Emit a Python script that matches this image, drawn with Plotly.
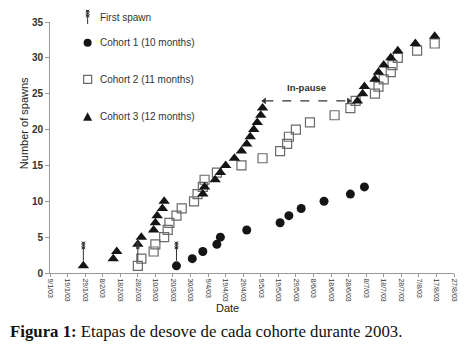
import plotly.graph_objects as go

# ---------------- data ----------------
c1_dates = ["2003-03-22", "2003-03-31", "2003-04-06", "2003-04-14", "2003-04-16", "2003-05-01",
            "2003-05-20", "2003-05-25", "2003-06-01", "2003-06-14", "2003-06-29", "2003-07-07"]
c1_values = [1, 2, 3, 4, 5, 6, 7, 8, 9, 10, 11, 12]

c2_dates = ["2003-02-28", "2003-03-02", "2003-03-09", "2003-03-10", "2003-03-15", "2003-03-17",
            "2003-03-18", "2003-03-22", "2003-03-25", "2003-04-01", "2003-04-03", "2003-04-06",
            "2003-04-07", "2003-04-14", "2003-04-28", "2003-05-10", "2003-05-20", "2003-05-24",
            "2003-05-25", "2003-05-29", "2003-06-06", "2003-06-20", "2003-06-29", "2003-07-02",
            "2003-07-13", "2003-07-15", "2003-07-18", "2003-07-22", "2003-07-23", "2003-07-26",
            "2003-08-06", "2003-08-16"]
c2_values = list(range(1, 33))

c3_dates = ["2003-01-28", "2003-02-14", "2003-02-16", "2003-02-28", "2003-03-02", "2003-03-09",
            "2003-03-10", "2003-03-11", "2003-03-14", "2003-03-15", "2003-04-06", "2003-04-07",
            "2003-04-13", "2003-04-16", "2003-04-19", "2003-04-24", "2003-04-28", "2003-05-01",
            "2003-05-03", "2003-05-05", "2003-05-07", "2003-05-09", "2003-05-10", "2003-07-03",
            "2003-07-06", "2003-07-07", "2003-07-13", "2003-07-15", "2003-07-18", "2003-07-22",
            "2003-07-26", "2003-08-05", "2003-08-16"]
c3_values = list(range(1, 34))

first_spawn_dates = ["2003-01-28", "2003-02-28", "2003-03-22"]
first_spawn_values = [1, 1, 1]

pause_start = "2003-05-11"
pause_end = "2003-06-28"
pause_level = 24

x_range = ["2003-01-09", "2003-08-27"]
y_range = [0, 35]

legend_labels = ["First spawn", "Cohort 1 (10 months)", "Cohort 2 (11 months)", "Cohort 3 (12 months)"]

# ---------------- figure ----------------
OFF = 8                      # page body margin
W, H = 466 - OFF, 344 - OFF
PL, PR, PT, PB = 50, 458, 19, 273   # plot area in window pixels
L, T = PL - OFF, PT - OFF
R = (W + OFF) - PR
B = (H + OFF) - PB
pw, ph = PR - PL, PB - PT

def px(xp):
    return (xp - PL) / pw

def py(yp):
    return (PB - yp) / ph

fig = go.Figure()

fig.add_trace(go.Scatter(x=c1_dates, y=c1_values, mode="markers", name=legend_labels[1],
                         marker=dict(symbol="circle", size=9, color="#151515"), showlegend=False))
fig.add_trace(go.Scatter(x=c2_dates, y=c2_values, mode="markers", name=legend_labels[2],
                         marker=dict(symbol="square-open", size=9, color="#6a6a6a",
                                     line=dict(width=1.2, color="#6a6a6a")), showlegend=False))
fig.add_trace(go.Scatter(x=c3_dates, y=c3_values, mode="markers", name=legend_labels[3],
                         marker=dict(symbol="triangle-up", size=10, color="#151515"), showlegend=False))

# pause arrow (dashed line with heads)
fig.add_trace(go.Scatter(x=[pause_start, pause_end], y=[pause_level, pause_level], mode="lines+markers",
                         line=dict(color="#333", width=1.3, dash="dash"),
                         marker=dict(symbol=["triangle-left", "triangle-right"], size=6, color="#333"),
                         showlegend=False, hoverinfo="skip"))

shapes = []

def feather(xa, ya, xref, yref, y0, y1):
    """vertical line with a stacked squiggle head, pixel-sized relative to anchor"""
    path = f"M0,{y0} L0,{y1}"
    for i in range(3):
        top = y1 - i * 2.6
        path += f" M-1.8,{top} L1.8,{top-2} M1.8,{top} L-1.8,{top-2}"
    return dict(type="path", xref=xref, yref=yref, xsizemode="pixel", ysizemode="pixel",
                xanchor=xa, yanchor=ya, path=path, line=dict(color="#333", width=1))

for d, v in zip(first_spawn_dates, first_spawn_values):
    shapes.append(feather(d, v, "x", "y", 5, 24))

# legend
leg_y = [14, 40, 77, 115]
icon_x = px(88)
shapes.append(feather(icon_x, py(21), "paper", "paper", 0, 14))
shapes.append(dict(type="circle", xref="paper", yref="paper", xsizemode="pixel", ysizemode="pixel",
                   xanchor=icon_x, yanchor=py(leg_y[1]), x0=-4, x1=4, y0=-4, y1=4,
                   fillcolor="#151515", line=dict(color="#151515", width=0)))
shapes.append(dict(type="rect", xref="paper", yref="paper", xsizemode="pixel", ysizemode="pixel",
                   xanchor=icon_x, yanchor=py(leg_y[2]), x0=-4, x1=4, y0=-4, y1=4,
                   fillcolor="white", line=dict(color="#6a6a6a", width=1.2)))
shapes.append(dict(type="path", xref="paper", yref="paper", xsizemode="pixel", ysizemode="pixel",
                   xanchor=icon_x, yanchor=py(leg_y[3]), path="M-4.5,-4 L4.5,-4 L0,4.5 Z",
                   fillcolor="#151515", line=dict(color="#151515", width=0)))

annotations = []
for lab, yy in zip(legend_labels, leg_y):
    annotations.append(dict(text=lab, xref="paper", yref="paper", x=px(98), y=py(yy),
                            xanchor="left", yanchor="middle", showarrow=False,
                            font=dict(family="Liberation Sans", size=10, color="#333")))

annotations.append(dict(text="<b>In-pause</b>", x="2003-06-04", y=25.8, xref="x", yref="y",
                        showarrow=False, font=dict(family="Liberation Sans", size=9.5, color="#333")))
annotations.append(dict(text="Number of spawns", xref="paper", yref="paper", x=px(15), y=py(121),
                        textangle=-90, showarrow=False,
                        font=dict(family="Liberation Sans", size=11, color="#222")))
annotations.append(dict(text="Date", xref="paper", yref="paper", x=px(229), y=py(317),
                        showarrow=False, font=dict(family="Liberation Sans", size=11, color="#222")))
annotations.append(dict(text="<b>Figura 1:</b> Etapas de desove de cada cohorte durante 2003.",
                        xref="paper", yref="paper", x=px(8), y=py(332), xanchor="left",
                        yanchor="middle", showarrow=False,
                        font=dict(family="Liberation Serif", size=16.8, color="#111")))

fig.update_layout(
    width=W, height=H, margin=dict(l=L, r=R, t=T, b=B),
    paper_bgcolor="white", plot_bgcolor="white",
    shapes=shapes, annotations=annotations, showlegend=False,
    xaxis=dict(type="date", range=x_range, tick0=x_range[0], dtick=10 * 86400000,
               tickformat="%-d/%-m/%y", tickangle=90, ticks="outside", ticklen=3,
               tickcolor="#999", showline=True, linecolor="#999", linewidth=1,
               showgrid=False, zeroline=False,
               tickfont=dict(family="Liberation Sans", size=7, color="#333")),
    yaxis=dict(range=y_range, dtick=5, ticks="outside", ticklen=4, tickcolor="#999",
               showline=True, linecolor="#999", linewidth=1, showgrid=False, zeroline=False,
               tickfont=dict(family="Liberation Sans", size=10, color="#333", weight="bold")),
)

fig.write_html("out.html")
